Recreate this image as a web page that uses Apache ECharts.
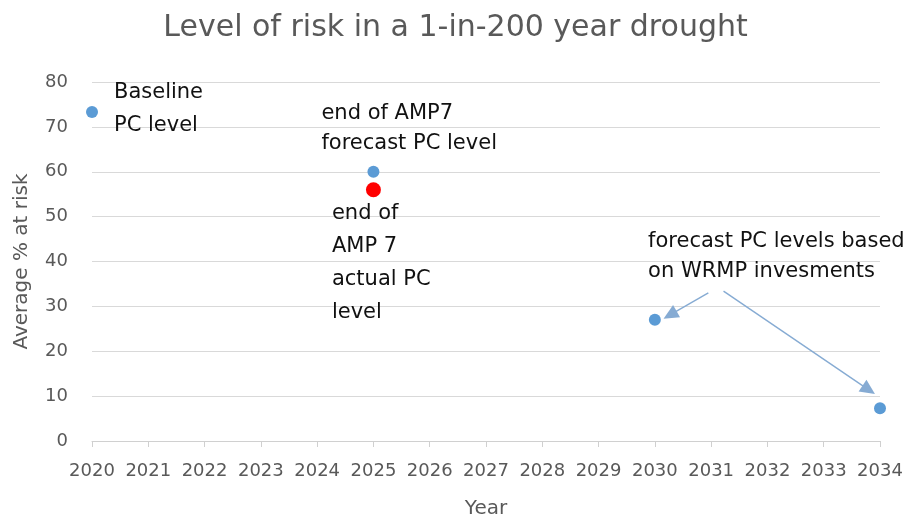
<!DOCTYPE html>
<html>
<head>
<meta charset="utf-8">
<script src="https://cdn.jsdelivr.net/npm/echarts@6/dist/echarts.min.js"></script>
<style>
  html, body { margin: 0; padding: 0; background: #fff; }
  #chart { width: 911px; height: 523px; }
</style>
</head>
<body>
<div id="chart"></div>
<script>
// Planned PC levels (blue) and the reported end-of-AMP7 level (red)
const forecastYears = [2020, 2025, 2030, 2034];
const forecastValues = [73.3, 60, 27, 7.3];
const forecastNotes = ['Baseline\nPC level', 'end of AMP7\nforecast PC level', '', ''];
const actualYears = [2025];
const actualValues = [56];
const actualNotes = ['end of\nAMP 7\nactual PC\nlevel'];
const yearTicks = [2020, 2034];
const riskTicks = [0, 80];
const wrmpNote = 'forecast PC levels based\non WRMP invesments';

const FONT = '"DejaVu Sans", sans-serif';
const GREY = '#595959';
const BLUE = '#5b9bd5';

// where each point's caption sits relative to its marker
const forecastLabelStyles = [
  { show: true, position: 'right', distance: 16, lineHeight: 33, offset: [0, -3] },
  { show: true, position: [-46, -67], align: 'left', verticalAlign: 'top', lineHeight: 30 },
  { show: false },
  { show: false }
];
const actualLabelStyles = [
  { show: true, position: [-34, 15], align: 'left', verticalAlign: 'top', lineHeight: 33 }
];

const noteText = { color: '#111', fontFamily: FONT, fontSize: 21 };

const chart = echarts.init(document.getElementById('chart'), null, { renderer: 'canvas' });

chart.setOption({
  backgroundColor: '#fff',
  animation: false,
  title: {
    text: 'Level of risk in a 1-in-200 year drought',
    left: 'center',
    top: 8,
    textStyle: { color: GREY, fontFamily: FONT, fontSize: 30, fontWeight: 'normal' }
  },
  grid: { left: 92, right: 31, top: 82, bottom: 82, outerBoundsMode: 'none', containLabel: false },
  xAxis: {
    type: 'value',
    min: yearTicks[0],
    max: yearTicks[1],
    interval: 1,
    name: 'Year',
    nameLocation: 'middle',
    nameGap: 58,
    nameTextStyle: { color: GREY, fontFamily: FONT, fontSize: 20 },
    axisLine: { show: true, lineStyle: { color: '#d0d0d0', width: 1 } },
    axisTick: { show: true, length: 6, lineStyle: { color: '#d0d0d0' } },
    splitLine: { show: false },
    axisLabel: {
      color: GREY, fontFamily: FONT, fontSize: 18, margin: 21,
      formatter: v => String(v)
    }
  },
  yAxis: {
    type: 'value',
    min: riskTicks[0],
    max: riskTicks[1],
    interval: 10,
    name: 'Average % at risk',
    nameLocation: 'middle',
    nameGap: 60,
    nameRotate: 90,
    nameTextStyle: { color: GREY, fontFamily: FONT, fontSize: 20 },
    axisLine: { show: false },
    axisTick: { show: false },
    splitLine: { lineStyle: { color: '#d9d9d9', width: 1 } },
    axisLabel: { color: GREY, fontFamily: FONT, fontSize: 18, margin: 24 }
  },
  series: [
    {
      name: 'Forecast PC level',
      type: 'scatter',
      clip: false,
      symbolSize: 12,
      itemStyle: { color: BLUE, opacity: 1 },
      data: forecastYears.map((y, i) => ({
        value: [y, forecastValues[i]],
        label: Object.assign({ formatter: forecastNotes[i] }, noteText, forecastLabelStyles[i])
      })),
      markPoint: {
        symbolSize: 0,
        silent: true,
        data: [{
          coord: [2029.88, 41],
          label: Object.assign({ show: true, formatter: wrmpNote, lineHeight: 30, align: 'left', verticalAlign: 'middle', position: 'inside' }, noteText)
        }]
      },
      markLine: {
        silent: true,
        symbol: ['none', 'triangle'],
        symbolSize: [14, 15],
        label: { show: false },
        lineStyle: { color: '#86abd3', width: 1.4, type: 'solid' },
        itemStyle: { color: BLUE },
        data: [
          [{ coord: [2030.95, 33] }, { coord: [2030.27, 28.1] }],
          [{ coord: [2031.22, 33.4] }, { coord: [2033.80, 11.4] }]
        ]
      }
    },
    {
      name: 'Actual PC level',
      type: 'scatter',
      clip: false,
      symbolSize: 15,
      itemStyle: { color: '#ff0000', opacity: 1 },
      data: actualYears.map((y, i) => ({
        value: [y, actualValues[i]],
        label: Object.assign({ formatter: actualNotes[i] }, noteText, actualLabelStyles[i])
      }))
    }
  ]
});
</script>
</body>
</html>
